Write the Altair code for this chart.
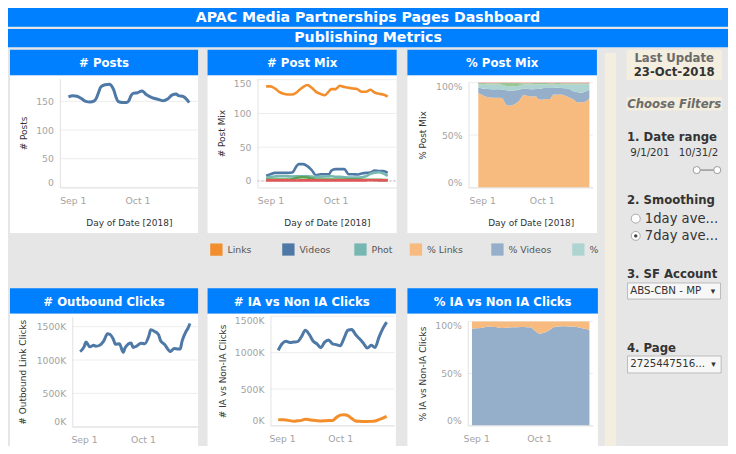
import altair as alt
import pandas as pd

# ---------------- data ----------------
BASE = pd.Timestamp(2018, 8, 30)          # first day shown by the lines

posts_days = [0, 2, 4, 6, 8, 10, 12, 13, 14, 15, 17, 19, 20, 21, 22, 23, 25, 27, 28, 29,
              30, 32, 34, 35, 36, 38, 40, 42, 44, 46, 48, 50, 51, 53, 55, 56]
posts_vals = [158, 160, 159, 155, 150, 149, 151, 156, 166, 175, 179, 180, 177, 170, 158, 150, 148, 148, 151, 160,
              164, 165, 168, 166, 162, 158, 155, 153, 151, 154, 161, 163, 160, 159, 153, 148]

mix_names = ["Links", "Videos", "Photos", "Statuses", "Events"]
mix_days = [0, 2, 4, 6, 8, 10, 12, 14, 15, 17, 19, 21, 23, 25, 27, 29, 30, 32, 34, 36,
            38, 40, 42, 44, 46, 48, 50, 52, 54, 56]
mix_links = [140, 140, 137, 132, 129, 128, 128, 131, 134, 139, 142, 138, 132, 129, 127, 133, 136, 136, 141, 139,
             138, 137, 136, 132, 132, 135, 131, 129, 128, 125]
mix_videos = [7.6, 10, 12, 12, 12, 12, 12.5, 22, 25, 25, 22, 16, 8.5, 10, 10, 10, 15, 17.5, 17.5, 17.5,
              10, 10, 9.5, 11, 12, 12.5, 15.5, 14.7, 14.7, 12]
mix_photos = [5, 6, 6.6, 7, 7, 6.8, 6.6, 6.8, 7, 7, 7, 6.5, 6, 6.3, 6.6, 6.8, 7, 6.2, 6, 5.5,
              5, 5, 5, 5.5, 7, 10.5, 12.3, 12.8, 11, 7.6]
mix_status = [2, 2, 2, 2, 2, 2, 2.5, 4.5, 5, 5.5, 5, 3.5, 2, 2, 2, 2, 2, 2, 2, 2,
              2, 2, 2, 2, 1.8, 1.8, 1.6, 1.6, 1.5, 1.5]
mix_events = [0.8, 0.8, 0.9, 0.9, 0.8, 0.8, 0.7, 0.7, 0.8, 0.8, 0.9, 0.9, 0.8, 0.8, 0.8, 0.7, 0.7, 0.8, 0.8, 0.9,
              0.9, 0.8, 0.8, 0.8, 0.9, 1.0, 1.0, 0.9, 0.9, 0.8]
mix_colors = ["#F28E2B", "#4E79A7", "#76B7B2", "#59A14F", "#E15759"]
mix_pct_colors = ["#F7BB80", "#95AFCA", "#ADD4D1", "#9BC795", "#ED9A9B"]

out_days = [0, 2, 3, 5, 7, 8, 10, 12, 14, 15, 17, 18, 20, 22, 23, 26, 27, 29, 31, 33,
            35, 36, 38, 40, 41, 43, 46, 48, 50, 51, 52, 54, 55, 56]
out_vals = [1126, 1198, 1270, 1198, 1222, 1207, 1222, 1284, 1395, 1390, 1308, 1236, 1246, 1116, 1188, 1255, 1188, 1212, 1251, 1246,
            1356, 1453, 1429, 1380, 1294, 1236, 1130, 1174, 1164, 1164, 1284, 1429, 1477, 1549]

click_names = ["Non-IA Clicks", "IA Clicks"]
click_days = [0, 2, 4, 6, 8, 10, 12, 14, 16, 18, 20, 22, 24, 26, 28, 30, 32, 34, 36, 38,
              40, 42, 44, 46, 48, 50, 52, 54, 56]
click_non_ia = [1031, 1122, 1156, 1138, 1145, 1152, 1219, 1308, 1250, 1160, 1120, 1070, 1145, 1174, 1121, 1110, 1095, 1200, 1308, 1317,
                1245, 1190, 1130, 1063, 1100, 1070, 1210, 1330, 1420]
click_ia = [80, 78, 76, 66, 58, 64, 70, 85, 78, 70, 64, 62, 64, 67, 67, 108, 142, 148, 135, 95,
            62, 58, 55, 54, 56, 60, 80, 100, 125]
click_colors = ["#4E79A7", "#F28E2B"]
click_pct_colors = ["#95AFCA", "#F7BB80"]

legend_labels = ["Links", "Videos", "Photos", "% Links", "% Videos", "% Photos"]
legend_colors = ["#F28E2B", "#4E79A7", "#76B7B2", "#F7BB80", "#95AFCA", "#ADD4D1"]

# ---------------- layout helpers ----------------
W, H = 720, 438
SX, SY = W / 736, H / 454
F = 0.975
FONT = "DejaVu Sans"
BLUE = "#0080FF"
GRAY = "#E6E6E6"
BEIGE = "#F3EEDF"
GRID_C = "#EDEDED"
DOM_C = "#E2E2E2"
TICK_C = "#A3A3A3"
CUT = "\u200b"


def X(v):
    return round(v * SX, 2)


def Y(v):
    return round(v * SY, 2)


one = pd.DataFrame({"k": [0]})


def rect(x0, y0, x1, y1, fill, stroke=None, sw=1.0, corner=0):
    kw = dict(fill=fill)
    if stroke:
        kw.update(stroke=stroke, strokeWidth=sw)
    if corner:
        kw["cornerRadius"] = corner
    return alt.Chart(one).mark_rect(**kw).encode(
        x=alt.value(X(x0)), x2=alt.value(X(x1)), y=alt.value(Y(y0)), y2=alt.value(Y(y1)))


def text(s, x, y, size, color="#333333", weight="normal", align="center",
         style="normal", limit=0):
    kw = dict(text=s, fontSize=round(size * F, 2), color=color, fontWeight=weight,
              align=align, baseline="middle", font=FONT, fontStyle=style)
    if limit:
        kw.update(limit=limit, ellipsis=CUT)
    return alt.Chart(one).mark_text(**kw).encode(x=alt.value(X(x)), y=alt.value(Y(y)))


def circle(x, y, size, fill, stroke=None):
    kw = dict(color=fill, size=size, opacity=1)
    if stroke:
        kw.update(stroke=stroke, strokeWidth=1)
    return alt.Chart(one).mark_circle(**kw).encode(x=alt.value(X(x)), y=alt.value(Y(y)))


def rule(x0, y0, x1, y1, color, width=1.0):
    return alt.Chart(one).mark_rule(color=color, strokeWidth=width).encode(
        x=alt.value(X(x0)), x2=alt.value(X(x1)), y=alt.value(Y(y0)), y2=alt.value(Y(y1)))


def dt(day):
    t = BASE + pd.Timedelta(days=day)
    return alt.DateTime(year=t.year, month=t.month, date=t.day, hours=t.hour, minutes=t.minute)


def dstr(day):
    return (BASE + pd.Timedelta(days=day)).strftime("%Y-%m-%dT00:00:00")


def long_df(days, names, series):
    rows = []
    for k, (n, vals) in enumerate(zip(names, series)):
        for d, v in zip(days, vals):
            rows.append({"date": dstr(d), "v": v, "s": n, "k": k})
    return pd.DataFrame(rows)


posts_df = long_df(posts_days, ["Posts"], [posts_vals])
mix_df = long_df(mix_days, mix_names, [mix_links, mix_videos, mix_photos, mix_status, mix_events])
out_df = long_df(out_days, ["Outbound Link Clicks"], [out_vals])
click_df = long_df(click_days, click_names, [click_non_ia, click_ia])


def panel(df, names, colors, xr, yr, xdom, ydom, yticks, ytitle, ytx, xty,
          fmt=None, lexpr=None, area=False, zero_dash=False, lw=2.6):
    x0, x1 = xr
    yb, yt = yr
    xscale = alt.Scale(domain=[dt(xdom[0]), dt(xdom[1])], range=[X(x0), X(x1)], nice=False)
    yscale = alt.Scale(domain=ydom, range=[Y(yb), Y(yt)], nice=False, zero=False)
    xkw = dict(orient="bottom", offset=round(Y(yb) - H, 2), values=[dt(2), dt(32)],
               format="%b %-d", grid=False, ticks=False, domainColor=DOM_C,
               labelColor=TICK_C, labelFontSize=9.5 * F, labelFont=FONT,
               labelPadding=9, labelFlush=False, labelOverlap=False, zindex=1)
    if xty:
        xkw.update(title="Day of Date [2018]", titleX=X((x0 + x1) / 2),
                   titleY=round(Y(xty) - Y(yb), 2), titleBaseline="middle",
                   titleFontSize=9.2 * F, titleFontWeight="normal", titleColor="#333333",
                   titleFont=FONT)
    else:
        xkw.update(title=None)
    xaxis = alt.Axis(**xkw)
    ykw = dict(orient="left", offset=-X(x0), values=yticks, grid=False, ticks=False,
               domainColor=DOM_C, labelColor=TICK_C, labelFontSize=9.5 * F, labelFont=FONT,
               labelPadding=6.5, labelFlush=3, labelOverlap=False, title=ytitle,
               titleX=round(X(ytx) - X(x0), 2), titleY=Y((yb + yt) / 2), titleBaseline="middle",
               titleAngle=270, titleFontSize=9.2 * F, titleFontWeight="normal",
               titleColor="#333333", titleFont=FONT, zindex=1)
    if fmt:
        ykw["format"] = fmt
    if lexpr:
        ykw["labelExpr"] = lexpr
    yaxis = alt.Axis(**ykw)
    grid = alt.Chart(pd.DataFrame({"v": yticks})).mark_rule(color=GRID_C, strokeWidth=1).encode(
        y=alt.Y("v:Q", scale=yscale, axis=yaxis), x=alt.value(X(x0)), x2=alt.value(X(x1)))
    layers = [grid]
    if zero_dash:
        layers.append(alt.Chart(pd.DataFrame({"v": [0]})).mark_rule(
            color="#BBBBBB", strokeWidth=1, strokeDash=[2, 2]).encode(
            y=alt.Y("v:Q", scale=yscale, axis=yaxis), x=alt.value(X(x0)), x2=alt.value(X(x1))))
    color = alt.Color("s:N", scale=alt.Scale(domain=names, range=colors), legend=None)
    x_enc = alt.X("date:T", scale=xscale, axis=xaxis)
    if area:
        main = alt.Chart(df).mark_area(interpolate="monotone", opacity=1).encode(
            x=x_enc, y=alt.Y("v:Q", scale=yscale, axis=yaxis, stack="normalize"),
            color=color, order=alt.Order("k:Q"))
    else:
        main = alt.Chart(df).mark_line(interpolate="monotone", strokeWidth=lw).encode(
            x=x_enc, y=alt.Y("v:Q", scale=yscale, axis=yaxis), color=color)
    layers.append(main)
    return alt.layer(*layers)


layers = []

# ---- title bars ----
layers += [rect(0, 0, 736, 19.5, BLUE),
           text("APAC Media Partnerships Pages Dashboard", 368, 10, 14.5, "white", "bold"),
           rect(0, 21.7, 736, 40.7, BLUE),
           text("Publishing Metrics", 368, 31.5, 14.5, "white", "bold")]

# ---- panel frames ----
row1 = [(2, 194.3, "# Posts"), (204, 397.3, "# Post Mix"), (408.3, 602, "% Post Mix")]
row2 = [(2, 194.3, "# Outbound Clicks"), (204, 396.5, "# IA vs Non IA Clicks"),
        (408.3, 603, "% IA vs Non IA Clicks")]
for x0, x1, t in row1:
    layers += [rect(x0, 43.3, x1, 70, BLUE), rect(x0, 70, x1, 233.3, "white"),
               text(t, (x0 + x1) / 2, 57.3, 12, "white", "bold")]
for x0, x1, t in row2:
    layers += [rect(x0, 290.5, x1, 317, BLUE), rect(x0, 317, x1, 454, "white"),
               text(t, (x0 + x1) / 2, 304.5, 12, "white", "bold")]

# ---- legend strip ----
legend_x = [206.7, 280.3, 354, 410.7, 494, 576.7]
legend_limits = [0, 0, 27, 0, 0, 11]
for lx, lab, col, lim in zip(legend_x, legend_labels, legend_colors, legend_limits):
    layers += [rect(lx, 244, lx + 12.6, 256.7, col),
               text(lab, lx + 17.6, 250.5, 9.6, "#555555", align="left",
                    limit=X(lim) if lim else 0)]

# ---- sidebar ----
layers += [rect(610, 46.7, 621.7, 454, BEIGE),
           rect(632.3, 43.3, 730, 74.3, BEIGE),
           text("Last Update", 681, 51.5, 12, "#6B6B6B", "bold"),
           text("23-Oct-2018", 681, 66.8, 12, "#333333", "bold"),
           rect(632.3, 92.3, 730, 106.3, BEIGE),
           text("Choose Filters", 681, 99.5, 12, "#6B6B6B", "bold", style="italic"),
           text("1. Date range", 632.7, 134, 12, "#333333", "bold", align="left"),
           text("9/1/2018", 636, 150.3, 10.5, "#333333", align="left", limit=X(682) - X(636)),
           text("10/31/2018", 685.7, 150.3, 10.5, "#333333", align="left", limit=X(728) - X(685.7)),
           rule(704, 168, 725, 168, "#999999", 1.5),
           circle(704, 168, 50, "white", "#999999"),
           circle(725, 168, 50, "white", "#999999"),
           text("2. Smoothing", 632.7, 199.3, 12, "#333333", "bold", align="left"),
           circle(641.7, 218.3, 80, "white", "#AAAAAA"),
           text("1day ave...", 651, 218.5, 13.5, "#333333", align="left"),
           circle(641.7, 236.2, 80, "white", "#AAAAAA"),
           circle(641.7, 236.2, 12, "#444444"),
           text("7day ave...", 651, 236.4, 13.5, "#333333", align="left"),
           text("3. SF Account", 632.7, 275.7, 12, "#333333", "bold", align="left"),
           rect(633.3, 285, 728.3, 301.7, "#F7F7F7", "#BBBBBB"),
           text("ABS-CBN - MP", 636, 293.4, 10.5, "#333333", align="left"),
           text("\u25BE", 720.5, 293.4, 9, "#333333"),
           text("4. Page", 632.7, 352.3, 12, "#333333", "bold", align="left"),
           rect(633.3, 360.7, 729, 378.3, "#F7F7F7", "#BBBBBB"),
           text("2725447516...", 636, 369.5, 10.5, "#333333", align="left"),
           text("\u25BE", 721, 369.5, 9, "#333333")]

# ---- data panels ----
layers.append(panel(posts_df, ["Posts"], ["#4E79A7"], (53, 194), (186, 73), (-4, 60),
                    [0, 190], [0, 50, 100, 150], "# Posts", 16, 222, lw=3))
layers.append(panel(mix_df, mix_names, mix_colors, (255, 397), (186, 73.3), (-4, 60),
                    [-9.6, 151.4], [0, 50, 100, 150], "# Post Mix", 218.3, 222, zero_dash=True))
layers.append(panel(mix_df, mix_names, mix_pct_colors, (470.7, 598), (186, 77.3), (-4.93, 57.82),
                    [0, 1], [0, 0.5, 1], "% Post Mix", 423.3, 222, fmt=".0%", area=True))
layers.append(panel(out_df, ["Outbound Link Clicks"], ["#4E79A7"], (65.7, 194), (434, 320), (-4, 60),
                    [0, 1650], [0, 500, 1000, 1500], "# Outbound Link Clicks", 15, 0,
                    lexpr="datum.value + 'K'", lw=3))
layers.append(panel(click_df, click_names, click_colors, (268.3, 395), (432.7, 319.5), (-4, 60),
                    [0, 1500], [0, 500, 1000, 1500], "# IA vs Non-IA Clicks", 219.3, 0,
                    lexpr="datum.value + 'K'", lw=3))
layers.append(panel(click_df, click_names, click_pct_colors, (470, 598), (432.7, 325), (-2, 57.7),
                    [0, 1], [0, 0.5, 1], "% IA vs Non-IA Clicks", 423.3, 0, fmt=".0%", area=True))

chart = alt.layer(*layers).resolve_scale(
    x="independent", y="independent", color="independent"
).properties(
    width=W, height=H, padding=0, background=GRAY,
    autosize=alt.AutoSizeParams(type="none"),
).configure_view(strokeWidth=0)

chart.save("out.html", embed_options={"renderer": "svg", "actions": False})
